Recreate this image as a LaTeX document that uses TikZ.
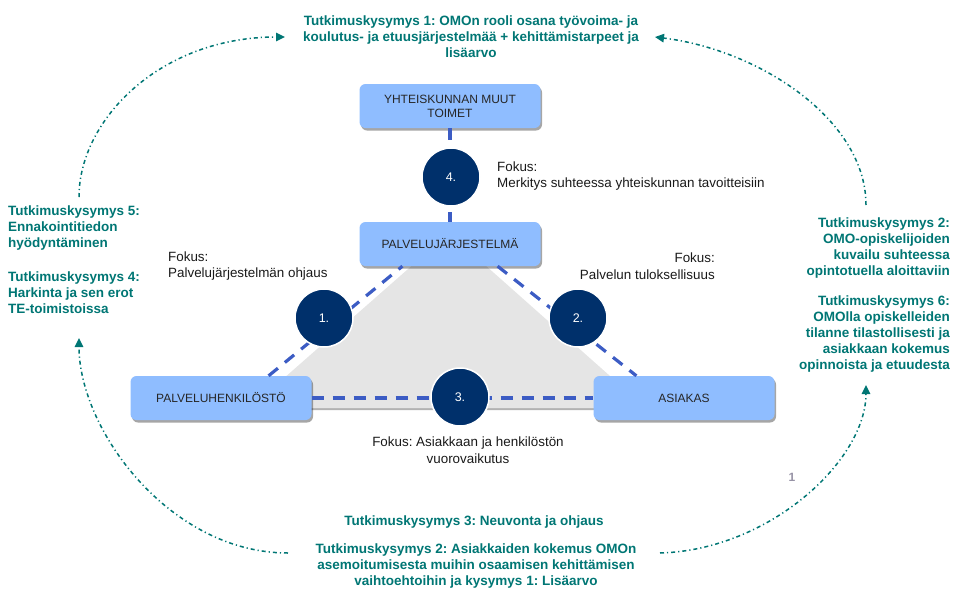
\documentclass[tikz,border=0pt]{standalone}
\usepackage{fontspec}
\setmainfont{Liberation Sans}
\usetikzlibrary{arrows.meta,shadows}
\definecolor{teal1}{RGB}{0,118,116}
\definecolor{boxblue}{RGB}{143,189,255}
\definecolor{navy}{RGB}{0,48,107}
\definecolor{dashblue}{RGB}{60,92,196}
\definecolor{trigray}{RGB}{229,229,229}
\definecolor{numgray}{RGB}{150,146,165}
\frenchspacing
\begin{document}
\begin{tikzpicture}[x=1pt,y=-1pt,
  rq/.style={text=teal1, font=\fontsize{13.5}{16}\selectfont\bfseries, inner sep=0pt},
  focus/.style={font=\fontsize{13.4}{16.5}\selectfont, inner sep=0pt, text=black!90},
  actor/.style={fill=boxblue, rounded corners=6pt, minimum width=181pt, minimum height=44pt, align=center, font=\fontsize{12}{14}\selectfont, text=black!85, drop shadow={shadow xshift=1.5pt, shadow yshift=-2.5pt, opacity=0.35, fill=black}},
  num/.style={circle, fill=navy, draw=white, line width=1.5pt, minimum size=58pt, inner sep=0pt, text=white, font=\fontsize{12.5}{15}\selectfont},
  link/.style={draw=dashblue, line width=3.2pt, dash pattern=on 12pt off 9pt},
  arc/.style={draw=teal1, line width=1.5pt, dash pattern=on 4pt off 3pt on 1.2pt off 3pt, -{Triangle[length=9pt,width=8.5pt]}}
]
\useasboundingbox (0,0) rectangle (953,592);

% gray triangle
\fill[trigray, drop shadow={shadow xshift=0pt, shadow yshift=-2pt, opacity=0.3, fill=black}] (449,233) -- (646,408) -- (250,408) -- cycle;

% actor boxes
\node[actor] (yht) at (450,106) {YHTEISKUNNAN MUUT\\TOIMET};
\node[actor] (pal) at (450,244) {PALVELUJÄRJESTELMÄ};
\node[actor] (hen) at (221,398) {PALVELUHENKILÖSTÖ};
\node[actor] (asi) at (684,398) {ASIAKAS};

% dashed links
\draw[link] (yht.south) -- (pal.north);
\draw[link] (hen.25) -- (pal.205);
\draw[link] (pal.-25) -- (asi.155);
\draw[link] (hen.east) -- (asi.west);

% numbered circles
\node[num] (c4) at (451,177) {4.};
\node[num] (c1) at (324,318) {1.};
\node[num] (c2) at (578,318) {2.};
\node[num] (c3) at (460,397) {3.};

% focus labels
\node[focus, anchor=west, align=left] (f4) at (497,176) {Fokus:\\Merkitys suhteessa yhteiskunnan tavoitteisiin};
\node[focus, anchor=west, align=left] (f1) at (168,266) {Fokus:\\Palvelujärjestelmän ohjaus};
\node[focus, anchor=east, align=right] (f2) at (715,266) {Fokus:\\Palvelun tuloksellisuus};
\node[focus, align=center] (f3) at (468,450) {Fokus: Asiakkaan ja henkilöstön\\vuorovaikutus};

% research questions
\node[rq, align=center] (rq1) at (471,37) {Tutkimuskysymys 1: OMOn rooli osana työvoima- ja\\koulutus- ja etuusjärjestelmää + kehittämistarpeet ja\\lisäarvo};
\node[rq, anchor=west, align=left] (rq54) at (8,260) {Tutkimuskysymys 5:\\Ennakointitiedon\\hyödyntäminen\\[18pt]Tutkimuskysymys 4:\\Harkinta ja sen erot\\TE-toimistoissa};
\node[rq, anchor=east, align=right] (rq26) at (950,295) {Tutkimuskysymys 2:\\OMO-opiskelijoiden\\kuvailu suhteessa\\opintotuella aloittaviin\\[14pt]Tutkimuskysymys 6:\\OMOlla opiskelleiden\\tilanne tilastollisesti ja\\asiakkaan kokemus\\opinnoista ja etuudesta};
\node[rq, align=center] (rq3) at (474,522) {Tutkimuskysymys 3: Neuvonta ja ohjaus};
\node[rq, align=center] (rq2b) at (476,566) {Tutkimuskysymys 2: Asiakkaiden kokemus OMOn\\asemoitumisesta muihin osaamisen kehittämisen\\vaihtoehtoihin ja kysymys 1: Lisäarvo};

\node[font=\fontsize{12}{14}\selectfont\bfseries, text=numgray, inner sep=0pt] (pg) at (792,477) {1};

% dash-dot arcs
\coordinate (a1s) at (79,197);  \coordinate (a1e) at (285,37);
\coordinate (a2s) at (866,205); \coordinate (a2e) at (655,37);
\coordinate (a3s) at (288,553); \coordinate (a3e) at (79,338);
\coordinate (a4s) at (660,553); \coordinate (a4e) at (866,385);
\draw[arc] (a1s) .. controls (79,120) and (160,37) .. (a1e);
\draw[arc] (a2s) .. controls (866,120) and (760,50) .. (a2e);
\draw[arc] (a3s) .. controls (170,553) and (79,430) .. (a3e);
\draw[arc] (a4s) .. controls (770,550) and (866,460) .. (a4e);
\end{tikzpicture}
\end{document}
